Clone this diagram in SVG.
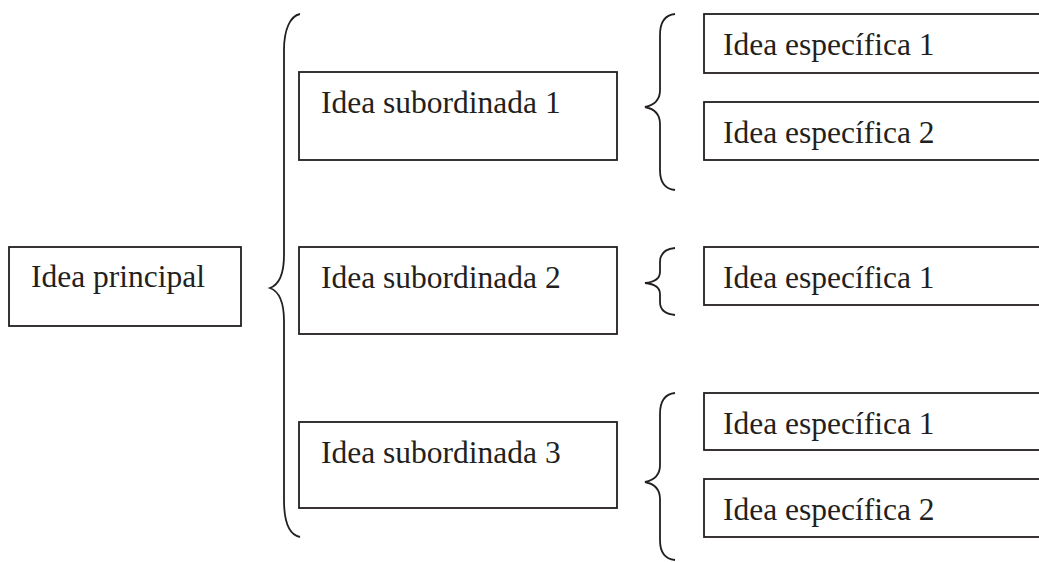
<svg xmlns="http://www.w3.org/2000/svg" width="1039" height="562" viewBox="0 0 1039 562">
<style>
.box{fill:#fff;stroke:#231f20;stroke-width:1.8}
.br{fill:none;stroke:#231f20;stroke-width:1.8}
.t{font-family:"Liberation Serif","Times New Roman",serif;font-size:31.5px;fill:#231f20}
</style>
<rect width="1039" height="562" fill="#fff"/>
<g id="connectors">
<path class="br" d="M300,14 C290,16 284,30 284,50 L284,255 C284,275 278,285 270,288 C278,291 284,301 284,321 L284,500 C284,525 290,535 300,537"/>
<path class="br" d="M675,14 C665,15 660,22 660,35 L660,90 C660,100 655,105 645,107 C655,109 660,114 660,124 L660,170 C660,183 665,189 675,190"/>
<path class="br" d="M675,248 C665,249 660,254 660,262 L660,272 C660,279 655,282 645,283 C655,284 660,287 660,294 L660,302 C660,310 665,314 675,315"/>
<path class="br" d="M675,393 C665,394 660,401 660,414 L660,465 C660,475 655,480 645,482 C655,484 660,489 660,499 L660,540 C660,553 665,559 675,560"/>
</g>
<g id="principal"><rect class="box" x="9" y="247" width="232" height="79"/><text class="t" x="31" y="287">Idea principal</text></g>
<g id="sub1"><rect class="box" x="299" y="72" width="318" height="88"/><text class="t" x="321" y="113">Idea subordinada 1</text></g>
<g id="sub2"><rect class="box" x="299" y="247" width="318" height="87"/><text class="t" x="321" y="288">Idea subordinada 2</text></g>
<g id="sub3"><rect class="box" x="299" y="422" width="318" height="86"/><text class="t" x="321" y="463">Idea subordinada 3</text></g>
<g id="esp1a"><rect class="box" x="704" y="14" width="345" height="59"/><text class="t" x="723" y="55">Idea específica 1</text></g>
<g id="esp1b"><rect class="box" x="704" y="102" width="345" height="58"/><text class="t" x="723" y="143">Idea específica 2</text></g>
<g id="esp2a"><rect class="box" x="704" y="247" width="345" height="58"/><text class="t" x="723" y="288">Idea específica 1</text></g>
<g id="esp3a"><rect class="box" x="704" y="393" width="345" height="57"/><text class="t" x="723" y="434">Idea específica 1</text></g>
<g id="esp3b"><rect class="box" x="704" y="479" width="345" height="58"/><text class="t" x="723" y="520">Idea específica 2</text></g>
</svg>
